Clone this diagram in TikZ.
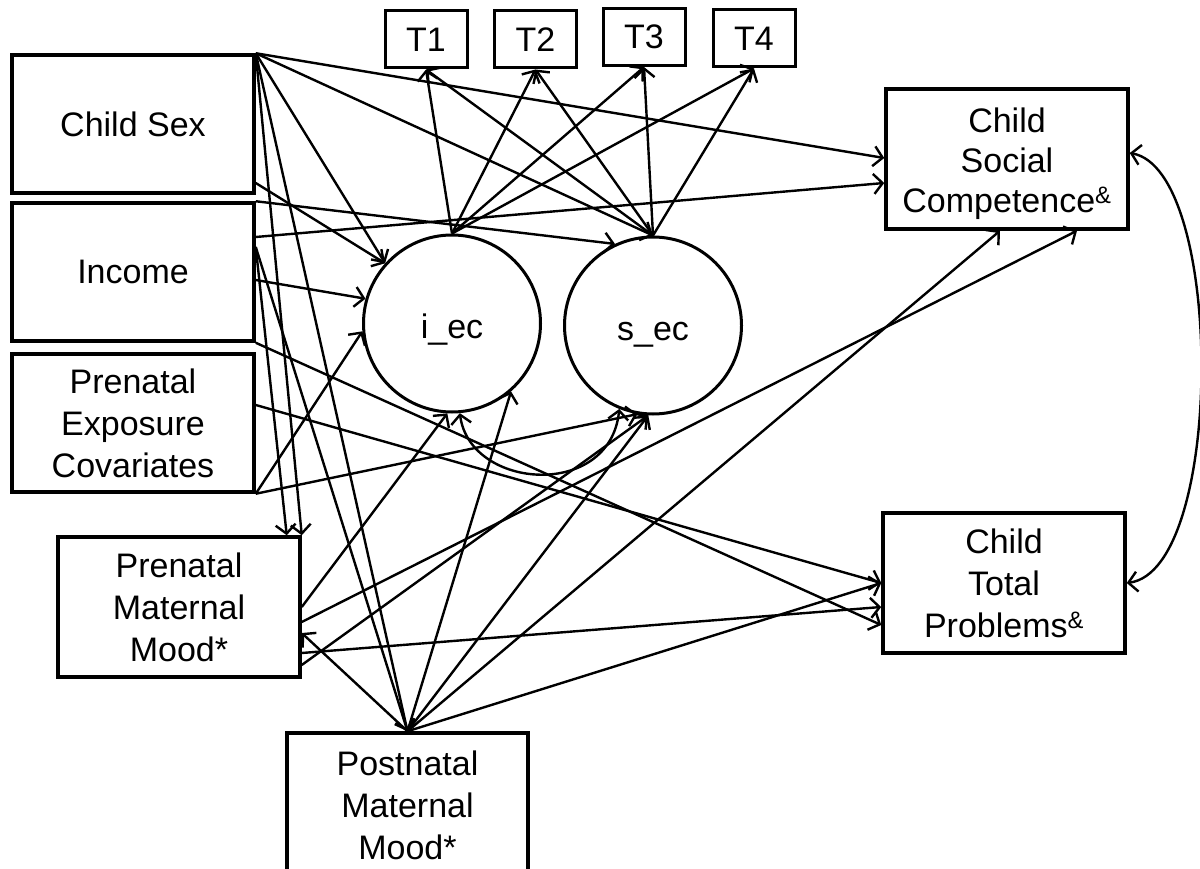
\documentclass[tikz,border=0pt]{standalone}
\usepackage{fontspec}
\setmainfont{Liberation Sans}
\usetikzlibrary{arrows.meta,calc}
\begin{document}
\begin{tikzpicture}[x=1pt,y=-1pt,
  txt/.style={font=\fontsize{34}{42}\selectfont},
  box/.style={txt,draw,line width=3.5pt,minimum width=242pt,minimum height=138pt,align=center,inner sep=0pt},
  tbox/.style={txt,draw,line width=3pt,minimum width=82pt,minimum height=57pt,inner sep=0pt},
  latent/.style={txt,draw,circle,line width=3pt,minimum size=177pt,inner sep=0pt,text height=30pt,text depth=0pt},
  tip/.tip={Straight Barb[length=9pt,width=20pt]},
  conn/.style={line width=2.4pt,-tip},
  dconn/.style={line width=2.4pt,tip-tip}
]
\useasboundingbox[fill=white] (0,0) rectangle (1200,869);

% boxes
\node[box] (cs)  at (133,124) {Child Sex};
\node[box] (inc) at (133,272) {Income};
\node[box] (pec) at (133,423) {Prenatal\\Exposure\\Covariates};
\node[box,minimum height=140pt] (pmm) at (179,607) {Prenatal\\Maternal\\Mood*};
\node[box,minimum width=241pt,minimum height=144pt] (post) at (407.5,805) {Postnatal\\Maternal\\Mood*};
\node[box,minimum height=140pt,font=\fontsize{34}{40}\selectfont,text height=115pt,text depth=7pt] (csc) at (1007,159) {Child\\Social\\Competence\textsuperscript{\&}};
\node[box,minimum height=140pt] (ctp) at (1004,583) {Child\\Total\\Problems\textsuperscript{\&}};

\node[tbox] (t1) at (426,39.5) {T1};
\node[tbox] (t2) at (535.5,39.5) {T2};
\node[tbox] (t3) at (644,37) {T3};
\node[tbox] (t4) at (754,38.5) {T4};

\node[latent] (iec) at (452,323.5) {i\_ec};
\node[latent] (sec) at (653,325.5) {s\_ec};

% Child Sex
\draw[conn] (cs.north east) -- ($(csc.west)+(0,-1)$);
\draw[conn] (cs.north east) -- (sec.north);
\draw[conn] (cs.north east) -- (iec.138);
\draw[conn] ($(cs.east)+(0,59)$) -- (iec.138);
\draw[conn] (cs.north east) -- (pmm.north east);
\draw[conn] (cs.north east) -- (post.north);

% Income
\draw[conn] (inc.north east) -- (sec.115);
\draw[conn] ($(inc.east)+(0,-35)$) -- ($(csc.west)+(0,24)$);
\draw[conn] ($(inc.east)+(0,-25)$) -- ($(pmm.north east)+(-15,0)$);
\draw[conn] ($(inc.east)+(0,-25)$) -- (post.north);
\draw[conn] ($(inc.east)+(0,8)$) -- (iec.164);
\draw[conn] (inc.south east) -- ($(ctp.west)+(0,42)$);

% Prenatal exposure covariates
\draw[conn] ($(pec.east)+(0,-18)$) -- (ctp.west);
\draw[conn] (pec.south east) -- (iec.185);
\draw[conn] (pec.south east) -- (sec.-100);

% Prenatal maternal mood
\draw[conn] (pmm.east) -- (iec.-93);
\draw[conn] ($(pmm.east)+(0,15)$) -- ($(csc.south)+(70,0)$);
\draw[conn] ($(pmm.east)+(0,46)$) -- ($(ctp.west)+(0,24)$);
\draw[conn] ($(pmm.east)+(0,58)$) -- (sec.-93);

% Postnatal maternal mood
\draw[conn] (post.north) -- ($(pmm.east)+(0,26)$);
\draw[conn] (post.north) -- (iec.-49);
\draw[conn] (post.north) -- (sec.-93);
\draw[conn] (post.north) -- ($(csc.south)+(-7,0)$);
\draw[conn] (post.north) -- (ctp.west);

% latent growth factors to indicators
\foreach \t in {t1,t2,t3,t4}{
  \draw[conn] (iec.north) -- (\t.south);
  \draw[conn] (sec.north) -- (\t.south);
}

% covariances
\draw[dconn] (iec.-85) .. controls (470,490) and (610,500) .. (sec.-112);
\draw[dconn] ($(csc.east)+(0,-6)$) .. controls (1225,170) and (1225,570) .. (ctp.east);
\end{tikzpicture}
\end{document}
